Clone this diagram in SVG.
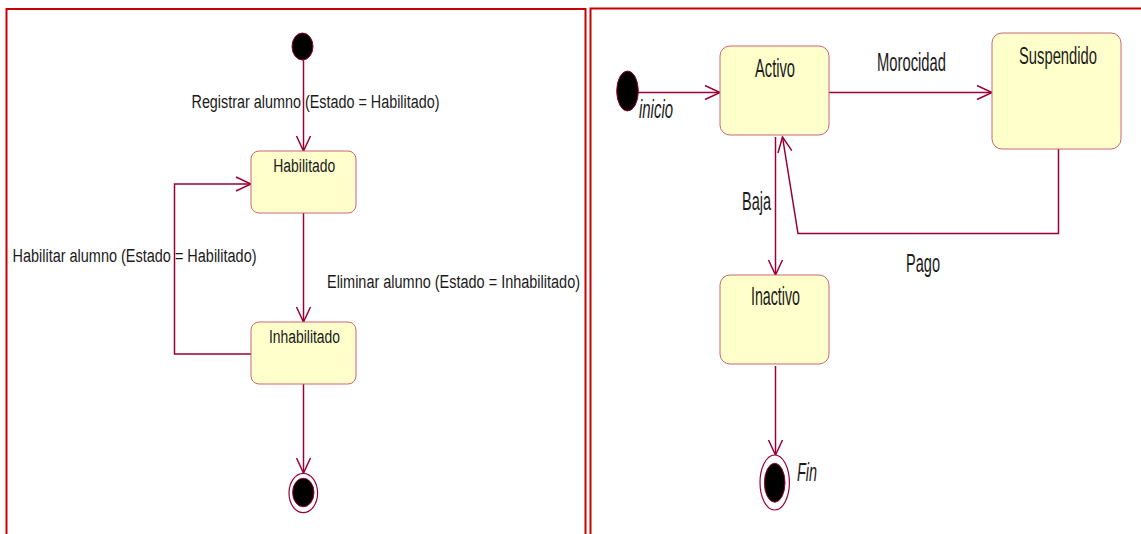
<svg xmlns="http://www.w3.org/2000/svg" width="1141" height="534" viewBox="0 0 1141 534">
<style>
.panel{fill:none;stroke:#c80000;stroke-width:2}
.state{fill:#ffffcc;stroke:#cc6677;stroke-width:1}
.conn{fill:none;stroke:#990033;stroke-width:1.5}
.init{fill:#000;stroke:#990033;stroke-width:1}
.fring{fill:#fff;stroke:#990033;stroke-width:1.2}
.t{font-family:"Liberation Sans",Arial,sans-serif;fill:#1a1a1a}
.s{font-size:18px}
.b{font-size:25px}
.i{font-style:italic}
</style>
<defs>
<marker id="arr" markerUnits="userSpaceOnUse" markerWidth="20" markerHeight="20" refX="16" refY="8" orient="auto" viewBox="0 0 20 20">
<path d="M1,1 L16,8 L1,15" fill="none" stroke="#990033" stroke-width="1.5"/>
</marker>
</defs>
<rect width="1141" height="534" fill="#fff"/>
<path class="panel" d="M6.5,540 V9 H585.5 V540"/>
<path class="panel" d="M590.5,540 V8.5 H1150"/>

<g id="connectors">
<path class="conn" d="M303.5,60 V151" marker-end="url(#arr)"/>
<path class="conn" d="M303.5,213 V322" marker-end="url(#arr)"/>
<path class="conn" d="M251,354 H174.5 V184 H251" marker-end="url(#arr)"/>
<path class="conn" d="M303.5,384 V473" marker-end="url(#arr)"/>
<path class="conn" d="M638,92.5 H720" marker-end="url(#arr)"/>
<path class="conn" d="M829,92.5 H992" marker-end="url(#arr)"/>
<path class="conn" d="M1058.5,149 V233.5 H798 L782.5,137" marker-end="url(#arr)"/>
<path class="conn" d="M775.5,137 V275" marker-end="url(#arr)"/>
<path class="conn" d="M775.5,366 V455" marker-end="url(#arr)"/>
<text class="t s" x="191.5" y="108" textLength="248" lengthAdjust="spacingAndGlyphs">Registrar alumno (Estado = Habilitado)</text>
<text class="t s" x="12.5" y="261.5" textLength="244" lengthAdjust="spacingAndGlyphs">Habilitar alumno (Estado = Habilitado)</text>
<text class="t s" x="327" y="288" textLength="253" lengthAdjust="spacingAndGlyphs">Eliminar alumno (Estado = Inhabilitado)</text>
<text class="t b" x="877" y="71" textLength="69" lengthAdjust="spacingAndGlyphs">Morocidad</text>
<text class="t b" x="742" y="210" textLength="29" lengthAdjust="spacingAndGlyphs">Baja</text>
<text class="t b" x="906" y="272" textLength="34" lengthAdjust="spacingAndGlyphs">Pago</text>
</g>

<g id="start1">
<ellipse class="init" cx="302.5" cy="46.5" rx="10.5" ry="13.5"/>
</g>
<g id="habilitado">
<rect class="state" x="251" y="151" width="105" height="62" rx="8"/>
<text class="t s" x="273.3" y="171.7" textLength="62" lengthAdjust="spacingAndGlyphs">Habilitado</text>
</g>
<g id="inhabilitado">
<rect class="state" x="251" y="322" width="105" height="62" rx="8"/>
<text class="t s" x="269" y="343.3" textLength="71" lengthAdjust="spacingAndGlyphs">Inhabilitado</text>
</g>
<g id="end1">
<ellipse class="fring" cx="303.3" cy="493" rx="14.3" ry="19.7"/>
<ellipse class="init" cx="303.3" cy="492.5" rx="10.7" ry="14.3"/>
</g>

<g id="inicio">
<ellipse class="init" cx="627.5" cy="91" rx="10.8" ry="20"/>
<text class="t b i" x="639" y="118" textLength="34" lengthAdjust="spacingAndGlyphs">inicio</text>
</g>
<g id="activo">
<rect class="state" x="720" y="46" width="109" height="89" rx="10"/>
<text class="t b" x="755" y="77" textLength="40" lengthAdjust="spacingAndGlyphs">Activo</text>
</g>
<g id="suspendido">
<rect class="state" x="992" y="33" width="129" height="116" rx="10"/>
<text class="t" style="font-size:23px" x="1058" y="63.5" text-anchor="middle" textLength="78" lengthAdjust="spacingAndGlyphs">Suspendido</text>
</g>
<g id="inactivo">
<rect class="state" x="720" y="275" width="109" height="89" rx="10"/>
<text class="t b" x="751" y="304.5" textLength="49" lengthAdjust="spacingAndGlyphs">Inactivo</text>
</g>
<g id="fin">
<ellipse class="fring" cx="774.7" cy="482.5" rx="14.7" ry="27.5"/>
<ellipse class="init" cx="774.7" cy="482.8" rx="10.3" ry="19.5"/>
<text class="t b i" x="797" y="481" textLength="20" lengthAdjust="spacingAndGlyphs">Fin</text>
</g>
</svg>
